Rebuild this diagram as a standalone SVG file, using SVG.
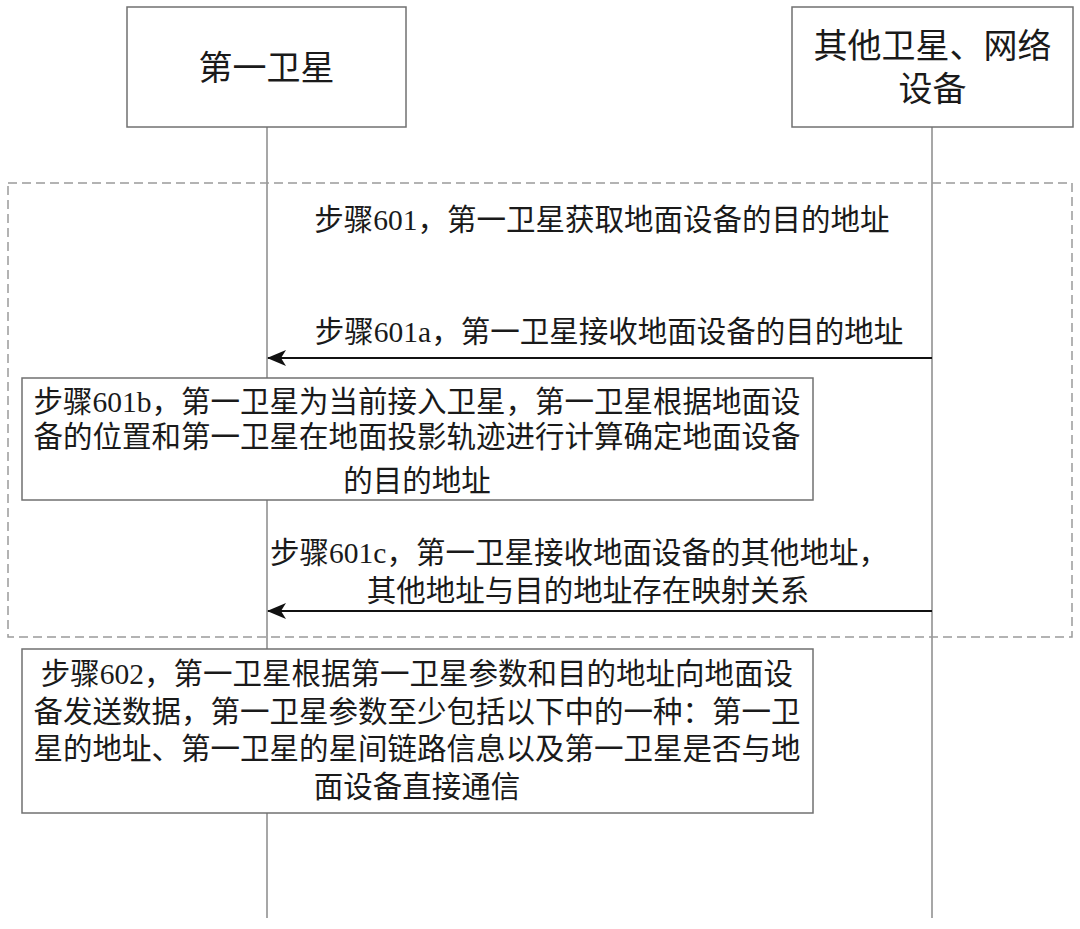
<svg xmlns="http://www.w3.org/2000/svg" width="1080" height="929" viewBox="0 0 1080 929">
<defs>
<style>
.box{fill:#fff;stroke:#707070;stroke-width:1.5}
.life{stroke:#8a8a8a;stroke-width:1.5;fill:none}
.dash{fill:none;stroke:#9a9a9a;stroke-width:1.5;stroke-dasharray:9 5}
.msg{stroke:#111;stroke-width:2;fill:none;marker-end:url(#ah)}
.t{font-family:"Liberation Serif","Noto Sans CJK SC",serif;fill:#1a1a1a;text-anchor:middle}
.h{font-size:34px}
.b{font-size:29.5px}
</style>
<marker id="ah" viewBox="0 0 19 16" refX="18" refY="8" markerWidth="19" markerHeight="16" markerUnits="userSpaceOnUse" orient="auto">
<path d="M0,0 L19,8 L0,16 L5,8 Z" fill="#111"/>
</marker>
</defs>
<rect width="1080" height="929" fill="#fff"/>
<g id="lifelines">
<line class="life" x1="267" y1="127" x2="267" y2="918"/>
<line class="life" x1="932" y1="127" x2="932" y2="918"/>
</g>
<g id="loop">
<rect class="dash" x="8" y="183" width="1064" height="454"/>
</g>
<g id="node-sat1">
<rect class="box" x="127" y="7" width="279" height="120"/>
<text class="t h" x="266.5" y="80">第一卫星</text>
</g>
<g id="node-other">
<rect class="box" x="792" y="7" width="281" height="120"/>
<text class="t h" x="932.5" y="58">其他卫星、网络</text>
<text class="t h" x="932.5" y="101">设备</text>
</g>
<g id="connectors">
<line class="msg" x1="932" y1="358" x2="268" y2="358"/>
<line class="msg" x1="932" y1="611" x2="268" y2="611"/>
</g>
<g id="label-601">
<text class="t b" x="602" y="230">步骤601，第一卫星获取地面设备的目的地址</text>
</g>
<g id="label-601a">
<text class="t b" x="609" y="342">步骤601a，第一卫星接收地面设备的目的地址</text>
</g>
<g id="node-601b">
<rect class="box" x="22" y="378" width="791" height="122"/>
<text class="t b" x="417" y="412">步骤601b，第一卫星为当前接入卫星，第一卫星根据地面设</text>
<text class="t b" x="417" y="447">备的位置和第一卫星在地面投影轨迹进行计算确定地面设备</text>
<text class="t b" x="417" y="491">的目的地址</text>
</g>
<g id="label-601c">
<text class="t b" x="579" y="563">步骤601c，第一卫星接收地面设备的其他地址，</text>
<text class="t b" x="588" y="601">其他地址与目的地址存在映射关系</text>
</g>
<g id="node-602">
<rect class="box" x="22" y="649" width="791" height="164"/>
<text class="t b" x="417" y="684">步骤602，第一卫星根据第一卫星参数和目的地址向地面设</text>
<text class="t b" x="417" y="722">备发送数据，第一卫星参数至少包括以下中的一种：第一卫</text>
<text class="t b" x="417" y="759">星的地址、第一卫星的星间链路信息以及第一卫星是否与地</text>
<text class="t b" x="417" y="797">面设备直接通信</text>
</g>
</svg>
